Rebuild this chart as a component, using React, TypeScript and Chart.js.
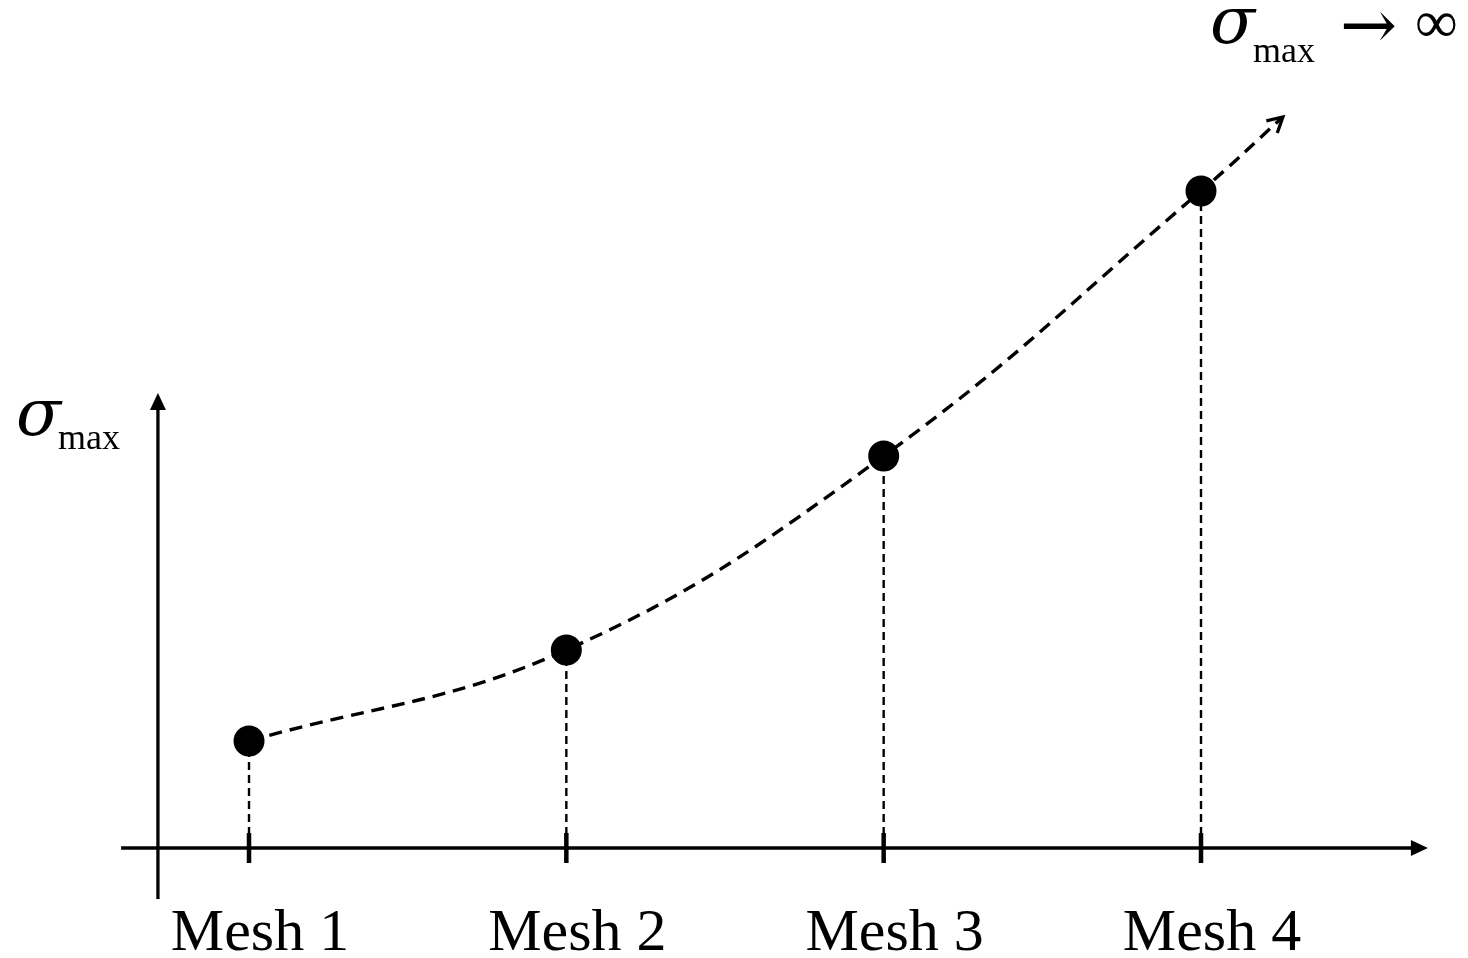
import React, { useEffect, useRef } from "react";
import { Chart, registerables } from "chart.js";

Chart.register(...registerables);

// ---- data ----
const categories = ["Mesh 1", "Mesh 2", "Mesh 3", "Mesh 4"];
const meshX = [1, 2, 3, 4];
const sigmaMax = [1.07, 1.98, 3.92, 6.57];
// extrapolation of the trend (towards infinity)
const trendX = [4.258];
const trendY = [7.31];

const yLabelSigma = "σ";
const yLabelSub = "max";
const limitArrow = "→";
const limitInf = "∞";

// ---- scale ranges / axis geometry (in data units) ----
const X_MIN = 0.2153;
const X_MAX = 4.8414;
const Y_MIN = -1.1;
const Y_MAX = 8.48;
const X_AXIS_FROM = 0.597;
const X_AXIS_TO = 4.715;
const Y_AXIS_AT = 0.713;
const Y_AXIS_FROM = -0.51;
const Y_AXIS_TO = 4.55;

const SERIF = '"Liberation Serif", "Times New Roman", serif';
const SYM = '"DejaVu Serif", serif';

const drawPlugin = {
  id: "schematic",
  beforeDatasetsDraw(chart: any) {
    const ctx = chart.ctx;
    const xs = chart.scales.x;
    const ys = chart.scales.y;
    ctx.save();
    ctx.strokeStyle = "#000";
    ctx.fillStyle = "#000";
    // x axis
    const y0 = ys.getPixelForValue(0);
    const xa = xs.getPixelForValue(X_AXIS_FROM);
    const xb = xs.getPixelForValue(X_AXIS_TO);
    ctx.lineWidth = 3.3;
    ctx.beginPath();
    ctx.moveTo(xa, y0);
    ctx.lineTo(xb - 12, y0);
    ctx.stroke();
    ctx.beginPath();
    ctx.moveTo(xb, y0);
    ctx.lineTo(xb - 17, y0 - 8);
    ctx.lineTo(xb - 17, y0 + 8);
    ctx.closePath();
    ctx.fill();
    // y axis
    const x0 = xs.getPixelForValue(Y_AXIS_AT);
    const ya = ys.getPixelForValue(Y_AXIS_FROM);
    const yb = ys.getPixelForValue(Y_AXIS_TO);
    ctx.beginPath();
    ctx.moveTo(x0, ya);
    ctx.lineTo(x0, yb + 12);
    ctx.stroke();
    ctx.beginPath();
    ctx.moveTo(x0, yb);
    ctx.lineTo(x0 - 8, yb + 17);
    ctx.lineTo(x0 + 8, yb + 17);
    ctx.closePath();
    ctx.fill();
    // ticks
    ctx.lineWidth = 4.5;
    meshX.forEach((v) => {
      const px = xs.getPixelForValue(v);
      ctx.beginPath();
      ctx.moveTo(px, y0 - 15);
      ctx.lineTo(px, y0 + 15);
      ctx.stroke();
    });
    // category labels
    ctx.font = `60px ${SERIF}`;
    ctx.textAlign = "center";
    ctx.textBaseline = "alphabetic";
    meshX.forEach((v, i) => {
      const px = xs.getPixelForValue(v);
      ctx.fillText(categories[i], px + 11, y0 + 102);
    });
    // y label
    ctx.textAlign = "left";
    ctx.font = `italic 66px ${SYM}`;
    ctx.fillText(yLabelSigma, 16, 435);
    ctx.font = `36px ${SERIF}`;
    ctx.fillText(yLabelSub, 58, 449);
    // limit label
    ctx.font = `italic 66px ${SYM}`;
    ctx.fillText(yLabelSigma, 1210, 43);
    ctx.font = `36px ${SERIF}`;
    ctx.fillText(yLabelSub, 1253, 62);
    ctx.font = `68px ${SYM}`;
    ctx.textBaseline = "middle";
    ctx.fillText(limitArrow, 1340, 30);
    ctx.textBaseline = "alphabetic";
    ctx.font = `60px ${SERIF}`;
    ctx.fillText(limitInf, 1415, 42);
    ctx.restore();
  },
  afterDatasetsDraw(chart: any) {
    // open arrowhead at the end of the trend curve
    const meta = chart.getDatasetMeta(0);
    const pts = meta.data;
    const last = pts[pts.length - 1];
    const prev = pts[pts.length - 2];
    let dx = last.x - (last.cp1x ?? prev.x);
    let dy = last.y - (last.cp1y ?? prev.y);
    if (!isFinite(dx) || !isFinite(dy) || (dx === 0 && dy === 0)) {
      dx = last.x - prev.x;
      dy = last.y - prev.y;
    }
    const a = Math.atan2(dy, dx);
    const L = 17;
    const ctx = chart.ctx;
    ctx.save();
    ctx.strokeStyle = "#000";
    ctx.lineWidth = 3.3;
    ctx.lineCap = "butt";
    ctx.beginPath();
    ctx.moveTo(last.x - L * Math.cos(a - 0.5), last.y - L * Math.sin(a - 0.5));
    ctx.lineTo(last.x, last.y);
    ctx.lineTo(last.x - L * Math.cos(a + 0.5), last.y - L * Math.sin(a + 0.5));
    ctx.stroke();
    ctx.restore();
  },
};

export default function App() {
  const ref = useRef<HTMLCanvasElement | null>(null);
  useEffect(() => {
    if (!ref.current) return;
    const curve = meshX
      .map((x, i) => ({ x, y: sigmaMax[i] }))
      .concat(trendX.map((x, i) => ({ x, y: trendY[i] })));
    const points = meshX.map((x, i) => ({ x, y: sigmaMax[i] }));
    const drops = meshX.map((x, i) => ({
      type: "line" as const,
      data: [
        { x, y: 0 },
        { x, y: sigmaMax[i] },
      ],
      borderColor: "#000",
      borderWidth: 2.4,
      borderDash: [8, 5],
      pointRadius: 0,
      fill: false,
      order: 3,
    }));
    const chart = new Chart(ref.current, {
      type: "line",
      data: {
        datasets: [
          {
            data: curve,
            borderColor: "#000",
            borderWidth: 3.4,
            borderDash: [13, 8],
            tension: 0.4,
            pointRadius: 0,
            fill: false,
            order: 2,
          },
          {
            data: points,
            showLine: false,
            pointRadius: 15.5,
            pointBackgroundColor: "#000",
            pointBorderColor: "#000",
            pointBorderWidth: 0,
            order: 1,
          },
          ...drops,
        ] as any,
      },
      options: {
        responsive: false,
        animation: false,
        maintainAspectRatio: false,
        layout: { padding: 0, autoPadding: false },
        plugins: {
          legend: { display: false },
          tooltip: { enabled: false },
          title: { display: false },
        },
        scales: {
          x: { type: "linear", min: X_MIN, max: X_MAX, display: false },
          y: { type: "linear", min: Y_MIN, max: Y_MAX, display: false },
        },
      },
      plugins: [drawPlugin],
    });
    return () => chart.destroy();
  }, []);
  return (
    <div
      style={{
        position: "fixed",
        left: 0,
        top: 0,
        width: 1468,
        height: 958,
        background: "#fff",
      }}
    >
      <canvas ref={ref} width={1468} height={958} />
    </div>
  );
}
